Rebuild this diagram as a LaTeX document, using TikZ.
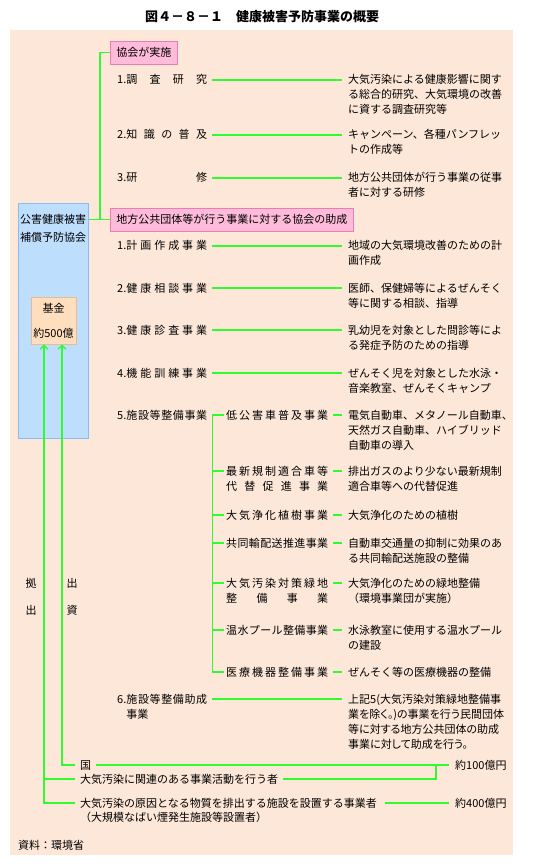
\documentclass[tikz,border=0pt]{standalone}
\usepackage{fontspec}
\setmainfont{Noto Sans CJK JP}
\newfontfamily\paltfont{Noto Sans CJK JP}[RawFeature=+palt]
\usepackage{xcolor}
\usetikzlibrary{arrows.meta, positioning, calc}
\definecolor{peach}{RGB}{253,231,216}
\definecolor{sky}{RGB}{190,222,253}
\definecolor{skyline}{RGB}{140,188,238}
\definecolor{apricot}{RGB}{255,222,190}
\definecolor{apricotline}{RGB}{232,188,146}
\definecolor{rose}{RGB}{255,188,218}
\definecolor{roseline}{RGB}{238,124,176}
\definecolor{leaf}{RGB}{48,250,48}
\newcommand{\evenbox}[2][90pt]{\makebox[#1][l]{#2}}
% lines stacked, baseline on the first line
\newcommand{\stack}[1]{\vtop{\halign{##\hfil\cr#1\crcr}}}

\begin{document}
\begin{tikzpicture}[x=1pt, y=-1pt,
    every node/.style={inner sep=0pt, font=\fontsize{11}{15}\selectfont},
    task/.style={anchor=base west},
    flow/.style={draw=leaf, line width=1.2pt},
    link/.style={flow, shorten <=5pt, shorten >=6pt},
    pinkbox/.style={draw=roseline, fill=rose, line width=0.8pt, minimum height=23pt, inner xsep=6pt, anchor=west},
    >={Straight Barb[length=4pt, width=8pt]}]
    \fill[white] (0,0) rectangle (554,866);
    \fill[peach] (10,30) rectangle (513,855);
    \useasboundingbox (0,0) rectangle (554,866);

    \node[font=\fontsize{13}{16}\selectfont\bfseries] (title) at (262,17) {図４－８－１　健康被害予防事業の概要};

    % association and fund
    \node[draw=skyline, fill=sky, line width=0.8pt, minimum width=70pt, minimum height=235pt, anchor=north west] (kyokai) at (18,203) {};
    \node[align=center, font=\fontsize{11}{18}\selectfont] (kyokaimei) at (53,228) {公害健康被害\\補償予防協会};
    \node[draw=apricotline, fill=apricot, line width=0.8pt, minimum width=45pt, minimum height=47pt,
        align=center, font=\fontsize{11}{25}\selectfont] (kikin) at (53.5,320.5) {基金\\約500億};

    \node[pinkbox] (jisshi) at (110,52.5) {協会が実施};
    \node[pinkbox] (josei) at (110,219.5) {地方公共団体等が行う事業に対する協会の助成};
    \draw[flow] (jisshi.west) -- ++(-10,0) |- (josei.west);
    \draw[flow] (kyokai.east |- josei.west) -- (josei.west);

    % projects of the association
    \node[task] (a1) at (117,84) {\evenbox{1.調\hfill 査\hfill 研\hfill 究}};
    \node[task] (a2) at (117,139) {\evenbox{2.知\hfill 識\hfill の\hfill 普\hfill 及}};
    \node[task] (a3) at (117,182) {\evenbox{3.研\hfill 修}};
    \node[task] (a1n) at (348,84) {\stack{大気汚染による健康影響に関す\cr る総合的研究、大気環境の改善\cr に資する調査研究等}};
    \node[task] (a2n) at (348,139) {\stack{キャンペーン、各種パンフレッ\cr トの作成等}};
    \node[task] (a3n) at (348,182) {\stack{地方公共団体が行う事業の従事\cr 者に対する研修}};

    % grants to local bodies
    \node[task] (b1) at (117,250) {\evenbox{1.計\hfill 画\hfill 作\hfill 成\hfill 事\hfill 業}};
    \node[task] (b2) at (117,292) {\evenbox{2.健\hfill 康\hfill 相\hfill 談\hfill 事\hfill 業}};
    \node[task] (b3) at (117,334) {\evenbox{3.健\hfill 康\hfill 診\hfill 査\hfill 事\hfill 業}};
    \node[task] (b4) at (117,377) {\evenbox{4.機\hfill 能\hfill 訓\hfill 練\hfill 事\hfill 業}};
    \node[task] (b5) at (117,419) {\evenbox{5.施\hfill 設\hfill 等\hfill 整\hfill 備\hfill 事\hfill 業}};
    \node[task] (b6) at (117,703) {\stack{\evenbox{6.施\hfill 設\hfill 等\hfill 整\hfill 備\hfill 助\hfill 成}\cr \phantom{6.}事業}};
    \node[task] (b1n) at (348,250) {\stack{地域の大気環境改善のための計\cr 画作成}};
    \node[task] (b2n) at (348,292) {\stack{医師、保健婦等によるぜんそく\cr 等に関する相談、指導}};
    \node[task] (b3n) at (348,334) {\stack{乳幼児を対象とした問診等によ\cr る発症予防のための指導}};
    \node[task] (b4n) at (348,377) {\stack{ぜんそく児を対象とした水泳・\cr 音楽教室、ぜんそくキャンプ}};
    \node[task, font=\fontsize{11}{15}\selectfont\paltfont] (b6n) at (348,703) {\stack{上記5(大気汚染対策緑地整備事\cr 業を除く。)の事業を行う民間団体\cr 等に対する地方公共団体の助成\cr 事業に対して助成を行う。}};

    % facilities
    \node[task] (s1) at (226,419) {\evenbox[102pt]{低\hfill 公\hfill 害\hfill 車\hfill 普\hfill 及\hfill 事\hfill 業}};
    \node[task] (s2) at (226,475) {\stack{\evenbox[102pt]{最\hfill 新\hfill 規\hfill 制\hfill 適\hfill 合\hfill 車\hfill 等}\cr \evenbox[102pt]{代\hfill 替\hfill 促\hfill 進\hfill 事\hfill 業}}};
    \node[task] (s3) at (226,519) {\evenbox[102pt]{大\hfill 気\hfill 浄\hfill 化\hfill 植\hfill 樹\hfill 事\hfill 業}};
    \node[task] (s4) at (226,547) {\evenbox[102pt]{共\hfill 同\hfill 輸\hfill 配\hfill 送\hfill 推\hfill 進\hfill 事\hfill 業}};
    \node[task] (s5) at (226,587) {\stack{\evenbox[102pt]{大\hfill 気\hfill 汚\hfill 染\hfill 対\hfill 策\hfill 緑\hfill 地}\cr \evenbox[102pt]{整\hfill 備\hfill 事\hfill 業}}};
    \node[task] (s6) at (226,634) {\evenbox[102pt]{温\hfill 水\hfill プ\hfill ー\hfill ル\hfill 整\hfill 備\hfill 事\hfill 業}};
    \node[task] (s7) at (226,676) {\evenbox[102pt]{医\hfill 療\hfill 機\hfill 器\hfill 整\hfill 備\hfill 事\hfill 業}};
    \node[task] (s1n) at (348,419) {\stack{電気自動車、メタノール自動車、\cr 天然ガス自動車、ハイブリッド\cr 自動車の導入}};
    \node[task] (s2n) at (348,475) {\stack{排出ガスのより少ない最新規制\cr 適合車等への代替促進}};
    \node[task] (s3n) at (348,519) {大気浄化のための植樹};
    \node[task] (s4n) at (348,547) {\stack{自動車交通量の抑制に効果のあ\cr る共同輸配送施設の整備}};
    \node[task] (s5n) at (348,587) {\stack{大気浄化のための緑地整備\cr （環境事業団が実施）}};
    \node[task] (s6n) at (348,634) {\stack{水泳教室に使用する温水プール\cr の建設}};
    \node[task] (s7n) at (348,676) {ぜんそく等の医療機器の整備};

    \foreach \l/\r in {a1/a1n, a2/a2n, a3/a3n, b1/b1n, b2/b2n, b3/b3n, b4/b4n, b6/b6n,
        s1/s1n, s2/s2n, s3/s3n, s4/s4n, s5/s5n, s6/s6n, s7/s7n}
        \draw[link] ([yshift=4pt]\l.base east) -- ([yshift=4pt]\l.base east -| \r.west);

    \coordinate (fork) at ([xshift=5pt,yshift=4pt]b5.base east);
    \foreach \s in {s1, s2, s3, s4, s5, s6, s7}
        \draw[flow, shorten >=2pt] (fork) |- ([yshift=4pt]\s.base west);

    % contributors
    \node[task] (kuni) at (80,769) {国};
    \node[task] (kanren) at (80,783) {大気汚染に関連のある事業活動を行う者};
    \node[task, font=\fontsize{11}{14}\selectfont] (gensen) at (80,807) {\stack{大気汚染の原因となる物質を排出する施設を設置する事業者\cr （大規模なばい煙発生施設等設置者）}};
    \node[task] (oku100) at (455,769) {約100億円};
    \node[task] (oku400) at (455,807) {約400億円};
    \coordinate (merge) at (436,765);
    \coordinate (kyoshutsu) at ([xshift=-9.5pt]kikin.south);
    \coordinate (shusshi) at ([xshift=8.5pt]kikin.south);

    \draw[link] ([yshift=4pt]kuni.base east) -- ([yshift=4pt]oku100.base west);
    \draw[flow, shorten <=5pt] ([yshift=4pt]kanren.base east) -| (merge);
    \draw[flow, shorten <=8pt, shorten >=6pt] ([yshift=4pt]gensen.base east) -- ([yshift=4pt]oku400.base west);
    \draw[flow, ->, shorten <=5pt] ([yshift=4pt]kuni.base west) -| (shusshi);
    \draw[flow, ->, shorten <=5pt] ([yshift=4pt]gensen.base west) -| (kyoshutsu);
    \draw[flow, shorten <=5pt] ([yshift=4pt]kanren.base west) -- ([yshift=4pt]kanren.base west -| kyoshutsu);

    \node[align=center, font=\fontsize{11}{27}\selectfont] (kyo) at (31,596.5) {拠\\出};
    \node[align=center, font=\fontsize{11}{27}\selectfont] (shi) at (72,596.5) {出\\資};

    \node[task] (shiryo) at (18,849) {資料：環境省};
\end{tikzpicture}
\end{document}
